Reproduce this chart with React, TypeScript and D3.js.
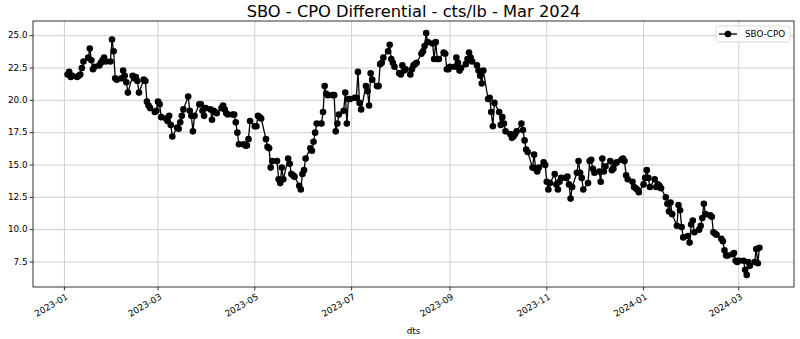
import React from "react";
import * as d3 from "d3";

const title = "SBO - CPO Differential - cts/lb - Mar 2024";
const seriesName = "SBO-CPO";
const xLabel = "dts";

// first and last trading day shown
const firstDay = "2023-01-03";
const lastDay = "2024-03-14";

// one array per month, one value per weekday
const months = [
  "2023-01", "2023-02", "2023-03", "2023-04", "2023-05", "2023-06", "2023-07", "2023-08",
  "2023-09", "2023-10", "2023-11", "2023-12", "2024-01", "2024-02", "2024-03",
];
const jan23 = [22.0, 22.2, 21.8, 21.9, 21.8, 21.9, 22.0, 22.5, 23.0, 23.3, 24.0, 23.1, 22.4, 22.6, 22.7, 22.9, 23.1, 23.3, 23.0, 23.0, 24.7];
const feb23 = [23.8, 21.7, 21.6, 21.7, 22.3, 21.9, 21.4, 20.6, 21.9, 21.7, 21.8, 21.5, 20.6, 21.6, 21.5, 19.9, 19.6, 19.4, 19.1, 19.2];
const mar23 = [19.9, 19.7, 18.7, 18.6, 18.4, 18.8, 18.1, 17.2, 17.9, 17.8, 18.3, 18.8, 19.3, 20.3, 19.2, 18.8, 17.6, 18.8, 19.7, 19.7, 19.2, 18.8, 19.4];
const apr23 = [19.3, 18.5, 19.2, 19.1, 19.0, 19.4, 19.6, 19.3, 19.0, 18.9, 18.9, 18.9, 18.3, 17.5, 16.6, 16.6, 16.5, 16.5, 17.0, 18.4];
const may23 = [18.0, 18.0, 18.8, 18.7, 18.6, 17.0, 16.4, 16.3, 14.8, 15.3, 15.3, 13.9, 13.6, 14.8, 13.9, 15.5, 15.1, 14.3, 14.2, 14.1, 13.4, 13.1, 14.3];
const jun23 = [14.6, 15.5, 16.3, 16.1, 16.8, 17.5, 18.2, 18.2, 19.1, 21.1, 20.5, 20.4, 20.4, 20.4, 17.6, 18.2, 18.9, 19.2, 20.6, 18.2, 20.1, 20.1];
const jul23 = [20.2, 20.2, 22.2, 19.8, 19.3, 21.1, 20.7, 19.6, 22.1, 21.6, 21.1, 21.1, 22.8, 22.9, 23.3, 23.8, 24.3, 23.2, 22.9, 22.6, 22.1];
const aug23 = [22.0, 22.7, 22.3, 22.4, 22.0, 22.4, 22.7, 22.8, 22.9, 23.6, 23.8, 24.2, 25.2, 24.5, 24.4, 23.2, 24.5, 23.2, 23.2, 23.7, 23.6, 22.4, 22.4];
const sep23 = [22.6, 22.6, 23.3, 22.9, 22.3, 22.5, 22.8, 23.2, 23.7, 23.3, 23.0, 22.7, 22.3, 21.9, 21.3, 22.3, 20.1, 20.2, 19.1, 18.0, 19.8];
const oct23 = [19.1, 18.1, 18.7, 18.2, 17.6, 17.4, 17.1, 17.2, 17.4, 17.6, 18.2, 17.7, 16.9, 16.2, 16.0, 14.8, 15.8, 14.7, 14.5, 14.8, 15.2, 15.0];
const nov23 = [13.7, 13.1, 13.6, 14.3, 13.5, 13.1, 13.7, 14.0, 14.0, 14.1, 13.5, 12.4, 13.3, 14.4, 15.3, 14.4, 14.0, 13.1, 13.6, 15.3, 15.4, 14.7];
const dec23 = [14.4, 14.5, 13.7, 15.5, 14.5, 14.9, 15.3, 14.6, 14.7, 15.1, 15.2, 15.4, 15.5, 15.3, 14.2, 13.9, 13.7, 13.3, 13.2, 13.1, 12.9];
const jan24 = [13.5, 14.0, 14.6, 14.0, 13.3, 13.9, 13.3, 13.5, 13.4, 13.2, 12.5, 12.0, 11.4, 12.1, 11.2, 10.3, 11.9, 11.5, 10.2, 9.4, 9.5, 9.0, 10.4];
const feb24 = [10.7, 9.8, 10.0, 10.3, 10.9, 12.0, 11.2, 11.1, 11.0, 9.8, 9.7, 9.6, 9.3, 9.1, 8.4, 8.0, 8.0, 8.1, 8.2, 7.6, 7.5];
const mar24 = [7.6, 7.6, 6.9, 6.5, 7.5, 7.2, 7.5, 8.5, 7.4, 8.6];
const monthValues = [jan23, feb23, mar23, apr23, may23, jun23, jul23, aug23, sep23, oct23, nov23, dec23, jan24, feb24, mar24];

const yTicks = [7.5, 10.0, 12.5, 15.0, 17.5, 20.0, 22.5, 25.0];
const xTicks = ["2023-01", "2023-03", "2023-05", "2023-07", "2023-09", "2023-11", "2024-01", "2024-03"];

const parseDay = d3.utcParse("%Y-%m-%d");
const parseMonth = d3.utcParse("%Y-%m");

type Pt = { date: Date; value: number };

function buildPoints(): Pt[] {
  const start = parseDay(firstDay)!;
  const end = parseDay(lastDay)!;
  return months.flatMap((m, i) => {
    const m0 = parseMonth(m)!;
    const days = d3.utcDay
      .range(m0, d3.utcMonth.offset(m0, 1))
      .filter((d) => d.getUTCDay() % 6 !== 0 && d >= start && d <= end);
    return days.map((d, j) => ({ date: d, value: monthValues[i][j] }));
  });
}

const App: React.FC = () => {
  const width = 800;
  const height = 339;
  const margin = { top: 21, right: 6, bottom: 52, left: 33 };
  const font = "DejaVu Sans, sans-serif";

  const data = buildPoints();

  // matplotlib style 5% padding on both axes
  const [t0, t1] = d3.extent(data, (d) => d.date.getTime()) as [number, number];
  const tPad = (t1 - t0) * 0.05;
  const x = d3
    .scaleUtc()
    .domain([new Date(t0 - tPad), new Date(t1 + tPad)])
    .range([margin.left, width - margin.right]);

  const [v0, v1] = d3.extent(data, (d) => d.value) as [number, number];
  const vPad = (v1 - v0) * 0.05;
  const y = d3
    .scaleLinear()
    .domain([v0 - vPad, v1 + vPad])
    .range([height - margin.bottom, margin.top]);

  const line = d3
    .line<Pt>()
    .x((d) => x(d.date))
    .y((d) => y(d.value));

  const left = margin.left;
  const right = width - margin.right;
  const top = margin.top;
  const bottom = height - margin.bottom;

  return (
    <svg
      width={width}
      height={height}
      style={{ position: "absolute", left: 0, top: 0, background: "#fff" }}
      fontFamily={font}
    >
      <rect x={0} y={0} width={width} height={height} fill="#fff" />

      {/* grid */}
      <g stroke="#cfcfcf" strokeWidth={1}>
        {yTicks.map((t) => (
          <line key={"gy" + t} x1={left} x2={right} y1={y(t)} y2={y(t)} />
        ))}
        {xTicks.map((t) => {
          const xx = x(parseMonth(t)!);
          return <line key={"gx" + t} x1={xx} x2={xx} y1={top} y2={bottom} />;
        })}
      </g>

      {/* Y axis */}
      <g fontSize={8.8} fill="#000">
        {yTicks.map((t) => (
          <g key={"yt" + t}>
            <line x1={left - 3.5} x2={left} y1={y(t)} y2={y(t)} stroke="#000" strokeWidth={0.8} />
            <text x={left - 5.5} y={y(t)} dy="0.32em" textAnchor="end">
              {t.toFixed(1)}
            </text>
          </g>
        ))}
      </g>

      {/* X axis */}
      <g fontSize={8.8} fill="#000">
        {xTicks.map((t) => {
          const xx = x(parseMonth(t)!);
          return (
            <g key={"xt" + t}>
              <line x1={xx} x2={xx} y1={bottom} y2={bottom + 3.5} stroke="#000" strokeWidth={0.8} />
              <text
                transform={`translate(${xx + 1},${bottom + 6}) rotate(-30)`}
                textAnchor="end"
                dominantBaseline="hanging"
              >
                {t}
              </text>
            </g>
          );
        })}
        <text x={(left + right) / 2} y={height - 5} textAnchor="middle">
          {xLabel}
        </text>
      </g>

      {/* series */}
      <path d={line(data) ?? ""} fill="none" stroke="#000" strokeWidth={1.3} />
      <g fill="#000">
        {data.map((d, i) => (
          <circle key={i} cx={x(d.date)} cy={y(d.value)} r={3.3} />
        ))}
      </g>

      {/* frame */}
      <rect x={left} y={top} width={right - left} height={bottom - top} fill="none" stroke="#000" strokeWidth={0.8} />

      {/* legend */}
      <g transform={`translate(${right - 78},${top + 5})`}>
        <rect x={0} y={0} width={74} height={16} rx={2} fill="#fff" fillOpacity={0.8} stroke="#d0d0d0" strokeWidth={0.8} />
        <line x1={3} x2={21} y1={8} y2={8} stroke="#000" strokeWidth={1.3} />
        <circle cx={12} cy={8} r={3.3} fill="#000" />
        <text x={29} y={8} dy="0.32em" fontSize={8.8} fill="#000">
          {seriesName}
        </text>
      </g>

      {/* title */}
      <text x={(left + right) / 2} y={top - 4} textAnchor="middle" fontSize={16.3} fill="#000">
        {title}
      </text>
    </svg>
  );
};

export default App;
